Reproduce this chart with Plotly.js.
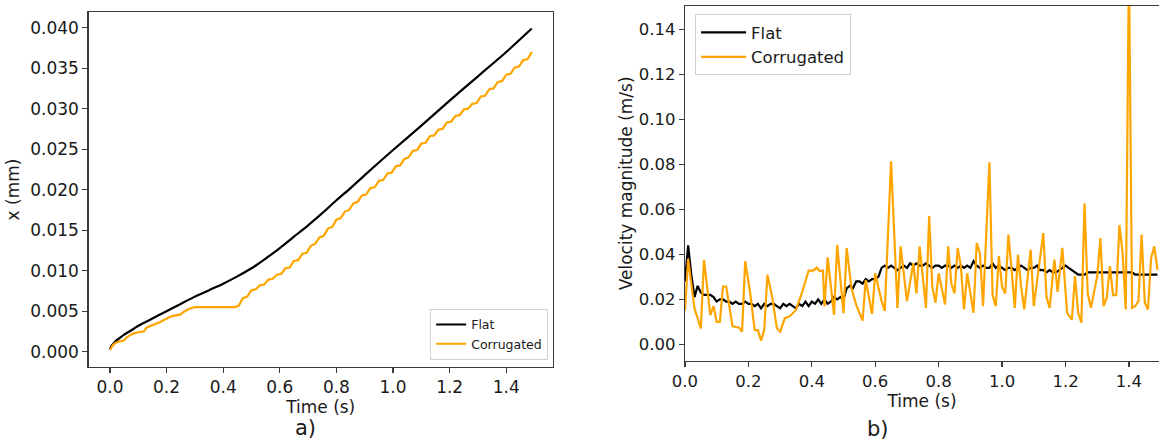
<!DOCTYPE html>
<html>
<head>
<meta charset="utf-8">
<script src="https://cdn.plot.ly/plotly-3.0.1.min.js"></script>
<style>
html,body{margin:0;padding:0;background:#fff;overflow:hidden;}
#chart{width:1159px;height:441px;}
</style>
</head>
<body>
<div id="chart"></div>
<script>
// ---------- Panel a) displacement ----------
const tFlatX = [0, 0.005, 0.01, 0.02, 0.035, 0.05, 0.083, 0.1, 0.15, 0.2, 0.25, 0.3, 0.35, 0.4, 0.45, 0.5, 0.55, 0.6, 0.65, 0.7, 0.75, 0.8, 0.85, 0.9, 1.0, 1.1, 1.2, 1.3, 1.4, 1.49];
const xFlat = [0.0003, 0.0007, 0.0009, 0.0013, 0.0017, 0.0021, 0.0028, 0.0032, 0.0041, 0.0050, 0.0059, 0.0068, 0.0076, 0.0084, 0.0093, 0.0103, 0.0115, 0.0128, 0.0142, 0.0156, 0.0171, 0.0187, 0.0202, 0.0218, 0.0249, 0.0279, 0.0310, 0.0340, 0.0370, 0.0399];

const tCorrX = [0, 0.01, 0.02, 0.04, 0.05, 0.06, 0.08, 0.10, 0.12, 0.13, 0.15, 0.17, 0.18, 0.20, 0.22, 0.25, 0.26, 0.28, 0.30, 0.44,
  0.455, 0.47, 0.485, 0.50, 0.515, 0.53, 0.545, 0.56, 0.575, 0.59, 0.605, 0.62, 0.635, 0.65, 0.665, 0.68, 0.695, 0.71, 0.725, 0.74,
  0.755, 0.77, 0.785, 0.80, 0.815, 0.83, 0.845, 0.86, 0.875, 0.89, 0.905, 0.92, 0.935, 0.95, 0.965, 0.98, 0.995, 1.01, 1.025, 1.04,
  1.055, 1.07, 1.085, 1.10, 1.115, 1.13, 1.145, 1.16, 1.175, 1.19, 1.205, 1.22, 1.235, 1.25, 1.265, 1.28, 1.295, 1.31, 1.325, 1.34,
  1.355, 1.37, 1.385, 1.40, 1.415, 1.43, 1.445, 1.46, 1.475, 1.49];
const xCorr = [0.0002, 0.0008, 0.0011, 0.0013, 0.0014, 0.0018, 0.0022, 0.0024, 0.0025, 0.0030, 0.0033, 0.0035, 0.0037, 0.0041, 0.0044, 0.0046, 0.0049, 0.0053, 0.0055, 0.0055,
  0.0057, 0.0066, 0.0068, 0.0076, 0.0077, 0.0082, 0.0083, 0.0089, 0.0090, 0.0095, 0.0096, 0.0103, 0.0104, 0.0112, 0.0113, 0.0121, 0.0122, 0.0131, 0.0133, 0.0141,
  0.0143, 0.0152, 0.0154, 0.0163, 0.0165, 0.0173, 0.0175, 0.0183, 0.0185, 0.0193, 0.0194, 0.0202, 0.0203, 0.0211, 0.0212, 0.0220, 0.0221, 0.0229, 0.0230, 0.0238,
  0.0240, 0.0248, 0.0249, 0.0257, 0.0258, 0.0266, 0.0267, 0.0274, 0.0275, 0.0283, 0.0284, 0.0291, 0.0292, 0.0299, 0.0300, 0.0306, 0.0307, 0.0315, 0.0316, 0.0324,
  0.0325, 0.0333, 0.0334, 0.0342, 0.0343, 0.0351, 0.0352, 0.0360, 0.0361, 0.0370];

// ---------- Panel b) velocity ----------
const tFlatV = [0.00,0.01,0.02,0.03,0.04,0.05,0.06,0.07,0.08,0.09,0.10,0.11,0.12,0.13,0.14,0.15,0.16,0.17,0.18,0.19,
  0.20,0.21,0.22,0.23,0.24,0.25,0.26,0.27,0.28,0.29,0.30,0.31,0.32,0.33,0.34,0.35,0.36,0.37,0.38,0.39,
  0.40,0.41,0.42,0.43,0.44,0.45,0.46,0.47,0.48,0.49,0.50,0.51,0.52,0.53,0.54,0.55,0.56,0.57,0.58,0.59,
  0.60,0.61,0.62,0.63,0.64,0.65,0.66,0.67,0.68,0.69,0.70,0.71,0.72,0.73,0.74,0.75,0.76,0.77,0.78,0.79,
  0.80,0.81,0.82,0.83,0.84,0.85,0.86,0.87,0.88,0.89,0.90,0.91,0.92,0.93,0.94,0.95,0.96,0.97,0.98,0.99,
  1.00,1.01,1.02,1.03,1.04,1.05,1.06,1.07,1.08,1.09,1.10,1.11,1.12,1.13,1.14,1.15,1.16,1.17,1.18,1.19,
  1.20,1.21,1.22,1.23,1.24,1.25,1.26,1.27,1.28,1.29,1.30,1.31,1.32,1.33,1.34,1.35,1.36,1.37,1.38,1.39,
  1.40,1.41,1.42,1.43,1.44,1.45,1.46,1.47,1.48,1.49];
const vFlat = [0.028,0.044,0.031,0.021,0.026,0.023,0.022,0.022,0.022,0.021,0.019,0.020,0.020,0.019,0.019,0.018,0.019,0.018,0.018,0.019,
  0.018,0.018,0.017,0.018,0.016,0.018,0.017,0.018,0.018,0.017,0.016,0.018,0.017,0.018,0.017,0.016,0.018,0.017,0.019,0.017,
  0.019,0.018,0.020,0.018,0.020,0.018,0.019,0.021,0.020,0.021,0.020,0.025,0.026,0.025,0.028,0.028,0.027,0.029,0.028,0.029,
  0.029,0.030,0.034,0.035,0.034,0.035,0.034,0.033,0.034,0.035,0.034,0.036,0.035,0.036,0.035,0.035,0.036,0.035,0.034,0.035,
  0.035,0.034,0.035,0.035,0.034,0.035,0.034,0.035,0.034,0.035,0.034,0.037,0.035,0.034,0.035,0.034,0.034,0.036,0.034,0.035,
  0.034,0.033,0.034,0.034,0.033,0.034,0.035,0.034,0.033,0.034,0.034,0.035,0.033,0.033,0.032,0.033,0.032,0.032,0.033,0.034,
  0.035,0.034,0.033,0.032,0.031,0.031,0.031,0.032,0.032,0.032,0.032,0.032,0.032,0.032,0.032,0.032,0.032,0.032,0.032,0.032,
  0.032,0.032,0.031,0.031,0.031,0.031,0.031,0.031,0.031,0.031];

const tCorrV = [0.0,0.01,0.03,0.05,0.06,0.08,0.09,0.10,0.11,0.12,0.13,0.15,0.17,0.18,0.19,0.205,0.22,0.23,0.24,0.25,
  0.26,0.275,0.29,0.30,0.315,0.33,0.35,0.37,0.39,0.405,0.415,0.425,0.435,0.44,0.45,0.47,0.48,0.50,0.51,0.525,
  0.54,0.56,0.57,0.59,0.60,0.62,0.63,0.65,0.67,0.68,0.70,0.72,0.73,0.74,0.76,0.77,0.78,0.79,0.80,0.82,
  0.83,0.84,0.85,0.86,0.87,0.88,0.89,0.91,0.92,0.93,0.94,0.96,0.97,0.98,0.99,1.00,1.01,1.02,1.03,1.04,
  1.05,1.06,1.07,1.09,1.10,1.12,1.13,1.14,1.15,1.165,1.175,1.19,1.205,1.22,1.23,1.24,1.25,1.26,1.27,1.28,
  1.30,1.31,1.32,1.33,1.34,1.35,1.36,1.37,1.38,1.39,1.40,1.41,1.42,1.43,1.44,1.45,1.46,1.47,1.48,1.49];
const vCorr = [0.015,0.038,0.016,0.007,0.0375,0.013,0.017,0.010,0.010,0.0257,0.0257,0.008,0.0075,0.0056,0.037,0.0234,0.0063,0.0063,0.0016,0.0063,
  0.031,0.021,0.007,0.0056,0.0116,0.0124,0.0153,0.0234,0.0328,0.0328,0.0341,0.0326,0.0328,0.0168,0.0387,0.0131,0.0442,0.0138,0.0428,0.0249,
  0.0175,0.0105,0.0286,0.0135,0.0316,0.0192,0.0148,0.0814,0.0162,0.0436,0.0192,0.0361,0.0226,0.0436,0.0162,0.0571,0.0255,0.0185,0.0316,0.0177,
  0.0436,0.0270,0.0226,0.0429,0.0348,0.0155,0.0316,0.0140,0.0450,0.0406,0.0170,0.0810,0.0219,0.0170,0.0392,0.0255,0.0226,0.0488,0.0331,0.0162,
  0.0399,0.0255,0.0155,0.0421,0.0170,0.0399,0.0495,0.0211,0.0162,0.0377,0.0233,0.0429,0.0140,0.0110,0.0303,0.0140,0.0096,0.0627,0.0226,0.0162,
  0.0303,0.0473,0.0170,0.0207,0.0348,0.0219,0.0219,0.0531,0.0406,0.0155,0.17,0.0162,0.0170,0.0192,0.0488,0.0185,0.0155,0.0384,0.0436,0.0331];

const seriesNames = ['Flat', 'Corrugated'];
const panelLabels = ['a)', 'b)'];
const xTitle = 'Time (s)';
const yTitleA = 'x (mm)';
const yTitleB = 'Velocity magnitude (m/s)';

const BLACK = '#000000';
const ORANGE = '#FFA500';
const FONT = 'DejaVu Sans, sans-serif';
const TXT = '#1a1a1a';
const SPINE = '#3a3a3a';

const traces = [
  {x: tFlatX, y: xFlat, name: seriesNames[0], type: 'scatter', mode: 'lines', line: {color: BLACK, width: 2.2, shape: 'spline', smoothing: 0.6}, xaxis: 'x', yaxis: 'y', legend: 'legend'},
  {x: tCorrX, y: xCorr, name: seriesNames[1], type: 'scatter', mode: 'lines', line: {color: ORANGE, width: 2.2}, xaxis: 'x', yaxis: 'y', legend: 'legend'},
  {x: tFlatV, y: vFlat, name: seriesNames[0], type: 'scatter', mode: 'lines', line: {color: BLACK, width: 2.2}, xaxis: 'x2', yaxis: 'y2', legend: 'legend2'},
  {x: tCorrV, y: vCorr, name: seriesNames[1], type: 'scatter', mode: 'lines', line: {color: ORANGE, width: 2.2}, xaxis: 'x2', yaxis: 'y2', legend: 'legend2'}
];

const axBase = {
  showgrid: false, zeroline: false, showline: true, linecolor: SPINE, linewidth: 1.2,
  ticks: 'outside', ticklen: 5, tickwidth: 1.2, tickcolor: SPINE,
  tickfont: {family: FONT, size: 17, color: TXT}
};

const layout = {
  width: 1159, height: 441,
  margin: {l: 0, r: 0, t: 0, b: 0},
  paper_bgcolor: '#ffffff', plot_bgcolor: '#ffffff',
  font: {family: FONT, color: TXT},
  xaxis: Object.assign({}, axBase, {
    domain: [0.0764, 0.4770], range: [-0.0756, 1.5645], dtick: 0.2, tick0: 0, tickformat: '.1f', mirror: true,
    anchor: 'y', title: {text: xTitle, font: {family: FONT, size: 17, color: TXT}, standoff: 0}
  }),
  yaxis: Object.assign({}, axBase, {
    domain: [0.1685, 0.9721], range: [-0.00185, 0.0419], dtick: 0.005, tick0: 0, tickformat: '.3f', mirror: true,
    anchor: 'x', title: {text: yTitleA, font: {family: FONT, size: 17, color: TXT}, standoff: 6}
  }),
  xaxis2: Object.assign({}, axBase, {
    domain: [0.5910, 1.0], range: [0, 1.4948], dtick: 0.2, tick0: 0, tickformat: '.1f', mirror: true,
    tickfont: {family: FONT, size: 16.5, color: TXT},
    anchor: 'y2', title: {text: xTitle, font: {family: FONT, size: 17, color: TXT}, standoff: 0}
  }),
  yaxis2: Object.assign({}, axBase, {
    domain: [0.1821, 0.9864], range: [-0.0073, 0.1505], dtick: 0.02, tick0: 0, tickformat: '.2f', mirror: false,
    tickfont: {family: FONT, size: 16.5, color: TXT},
    anchor: 'x2', title: {text: yTitleB, font: {family: FONT, size: 17, color: TXT}, standoff: 1}
  }),
  legend: {
    x: 0.4730, y: 0.184, xanchor: 'right', yanchor: 'bottom', xref: 'paper', yref: 'paper',
    bgcolor: 'rgba(255,255,255,0.8)', bordercolor: '#d0d0d0', borderwidth: 1,
    font: {family: FONT, size: 12.5, color: TXT}, tracegroupgap: 0, itemwidth: 30
  },
  legend2: {
    x: 0.5997, y: 0.968, xanchor: 'left', yanchor: 'top', xref: 'paper', yref: 'paper',
    bgcolor: 'rgba(255,255,255,0.8)', bordercolor: '#d0d0d0', borderwidth: 1,
    font: {family: FONT, size: 16.5, color: TXT}, tracegroupgap: 0, itemwidth: 45
  },
  annotations: [
    {text: panelLabels[0], x: 305 / 1159, y: 1 - 428 / 441, xref: 'paper', yref: 'paper', showarrow: false, xanchor: 'center', yanchor: 'middle', font: {family: FONT, size: 21, color: TXT}},
    {text: panelLabels[1], x: 878 / 1159, y: 1 - 429 / 441, xref: 'paper', yref: 'paper', showarrow: false, xanchor: 'center', yanchor: 'middle', font: {family: FONT, size: 21, color: TXT}}
  ],
  showlegend: true
};

Plotly.newPlot('chart', traces, layout, {staticPlot: true, displayModeBar: false});
</script>
</body>
</html>
